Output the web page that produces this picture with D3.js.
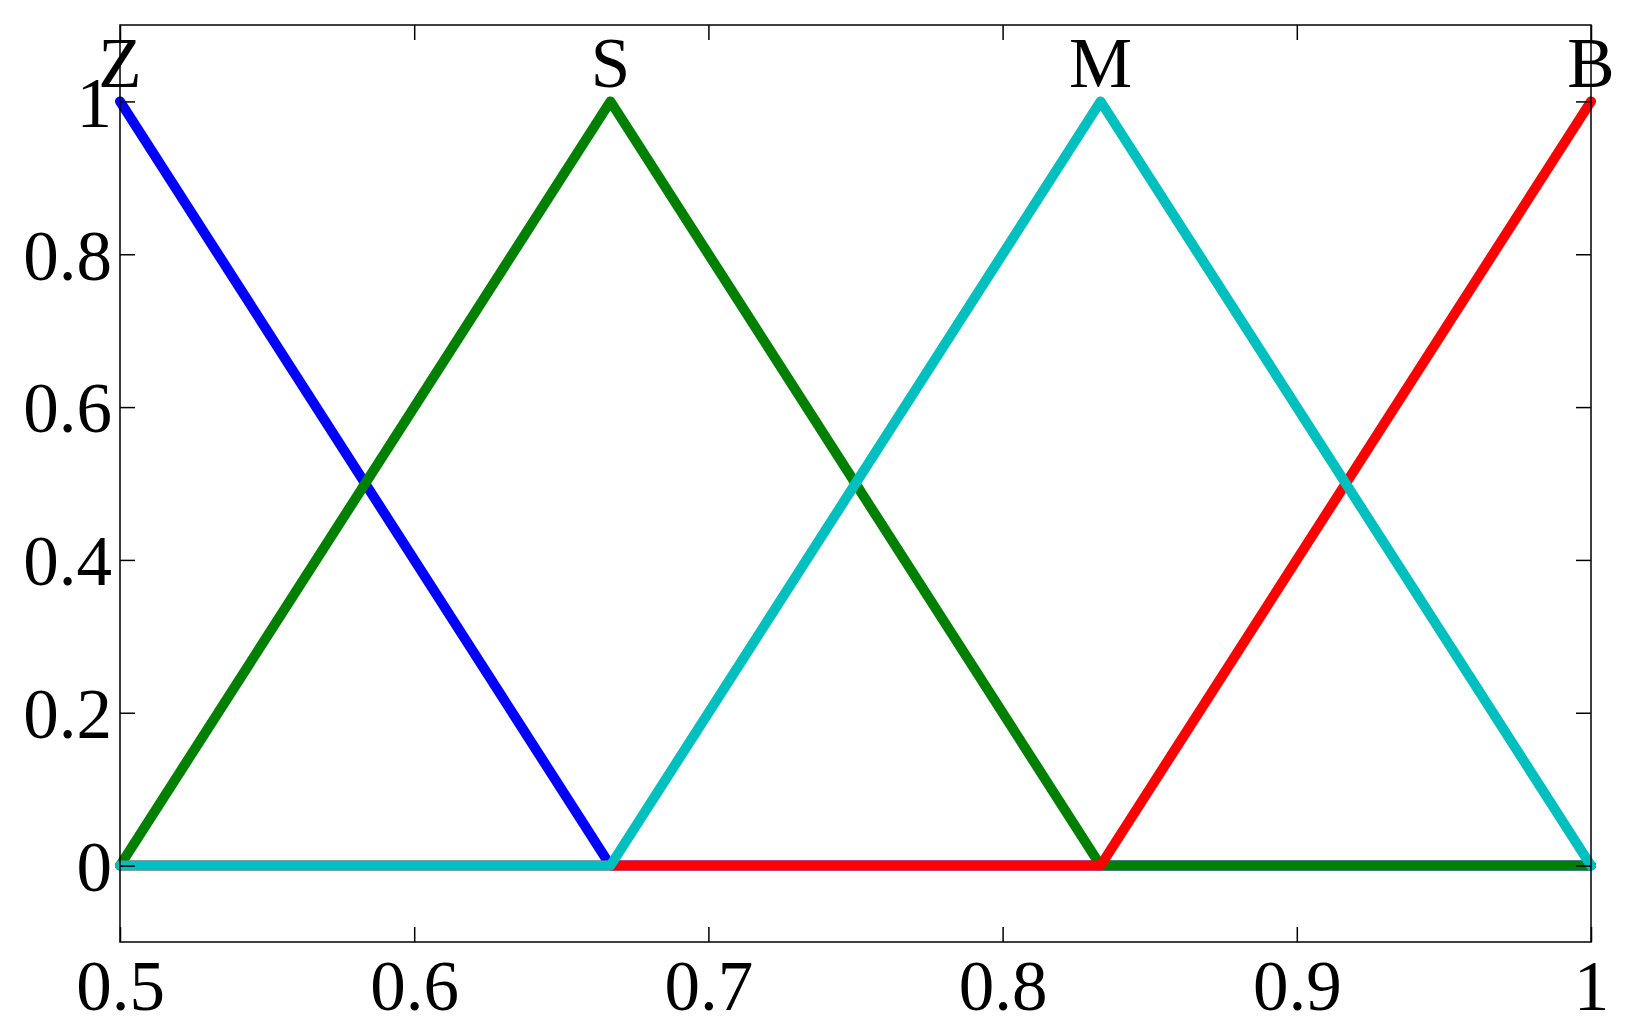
<!DOCTYPE html>
<html>
<head>
<meta charset="utf-8">
<script src="https://cdn.jsdelivr.net/npm/d3@7"></script>
<style>
  html, body { margin: 0; padding: 0; background: #fff; }
  svg { display: block; }
</style>
</head>
<body>
<svg id="chart" width="1626" height="1034"></svg>
<script>
// ---- data ----
const xBreaks = [0.5, 0.6667, 0.8333, 1.0];
const seriesNames = ["Z", "S", "M", "B"];
const zValues = [1, 0, 0, 0];
const sValues = [0, 1, 0, 0];
const mValues = [0, 0, 1, 0];
const bValues = [0, 0, 0, 1];
const labelX = [0.5, 0.6667, 0.8333, 1.0];
const xTicks = [0.5, 0.6, 0.7, 0.8, 0.9, 1.0];
const xTickLabels = ["0.5", "0.6", "0.7", "0.8", "0.9", "1"];
const yTicks = [0, 0.2, 0.4, 0.6, 0.8, 1.0];
const yTickLabels = ["0", "0.2", "0.4", "0.6", "0.8", "1"];

const colors = { Z: "#0000ff", S: "#008000", M: "#00bfbf", B: "#ff0000" };
const drawOrder = [
  { name: "Z", values: zValues },
  { name: "S", values: sValues },
  { name: "B", values: bValues },
  { name: "M", values: mValues }
];

// ---- layout ----
const pLeft = 120, pRight = 1591, pTop = 25, pBottom = 942;
const x = d3.scaleLinear().domain([0.5, 1.0]).range([pLeft, pRight]);
const y = d3.scaleLinear().domain([-0.1, 1.1]).range([pBottom, pTop]);
const FONT = '"Liberation Serif", "Times New Roman", Tinos, serif';
const fs = 71;

const svg = d3.select("#chart");
svg.append("rect").attr("width", 1626).attr("height", 1034).attr("fill", "#fff");

// curves
const line = d3.line().x(d => x(d[0])).y(d => y(d[1]));
const g = svg.append("g");
drawOrder.forEach(s => {
  const pts = xBreaks.map((xv, i) => [xv, s.values[i]]);
  g.append("path")
    .attr("d", line(pts))
    .attr("fill", "none")
    .attr("stroke", colors[s.name])
    .attr("stroke-width", 10)
    .attr("stroke-linejoin", "round")
    .attr("stroke-linecap", "round");
});

// axes
function styleAxis(sel) {
  sel.select(".domain").remove();
  sel.selectAll(".tick line").attr("stroke", "#000").attr("stroke-width", 1.5);
  sel.selectAll(".tick text")
    .style("font-family", FONT)
    .style("font-size", fs + "px")
    .attr("fill", "#000");
}
const yLeft = svg.append("g").attr("transform", `translate(${pLeft},0)`)
  .call(d3.axisLeft(y).tickValues(yTicks).tickSizeInner(-15).tickSizeOuter(0).tickPadding(8)
    .tickFormat((d, i) => yTickLabels[i]));
styleAxis(yLeft);
yLeft.selectAll(".tick text").attr("dy", "0.35em");

const yRight = svg.append("g").attr("transform", `translate(${pRight},0)`)
  .call(d3.axisRight(y).tickValues(yTicks).tickSizeInner(-15).tickSizeOuter(0).tickFormat(""));
styleAxis(yRight);

const xBottom = svg.append("g").attr("transform", `translate(0,${pBottom})`)
  .call(d3.axisBottom(x).tickValues(xTicks).tickSizeInner(-15).tickSizeOuter(0).tickPadding(20)
    .tickFormat((d, i) => xTickLabels[i]));
styleAxis(xBottom);
xBottom.selectAll(".tick text").attr("dy", "0.68em");

const xTop = svg.append("g").attr("transform", `translate(0,${pTop})`)
  .call(d3.axisTop(x).tickValues(xTicks).tickSizeInner(-15).tickSizeOuter(0).tickFormat(""));
styleAxis(xTop);

// box
svg.append("rect")
  .attr("x", pLeft).attr("y", pTop)
  .attr("width", pRight - pLeft).attr("height", pBottom - pTop)
  .attr("fill", "none").attr("stroke", "#000").attr("stroke-width", 1.5);

// series labels
svg.append("g").selectAll("text").data(seriesNames).join("text")
  .attr("x", (d, i) => x(labelX[i]))
  .attr("y", 87)
  .attr("text-anchor", "middle")
  .style("font-family", FONT)
  .style("font-size", fs + "px")
  .attr("fill", "#000")
  .text(d => d);
</script>
</body>
</html>
